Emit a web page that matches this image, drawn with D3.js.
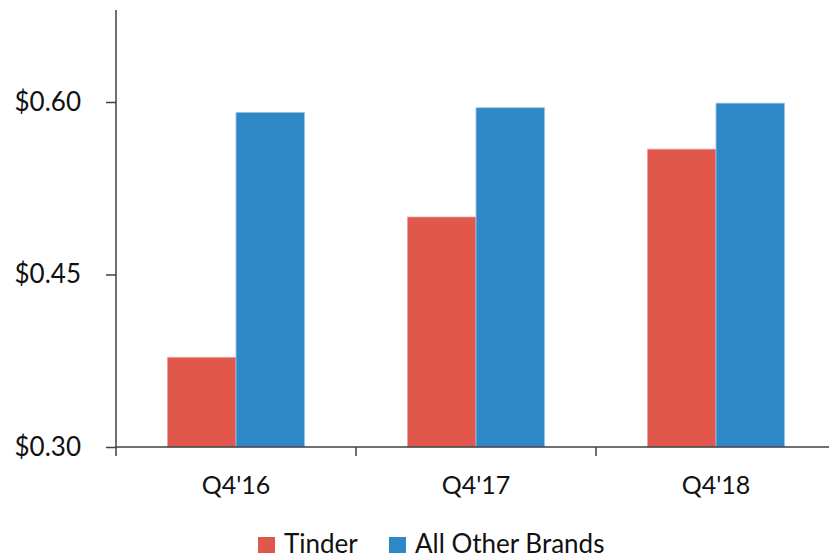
<!DOCTYPE html>
<html>
<head>
  <meta charset="utf-8">
  <style>
    body {margin: 0; background: #fff;}
    text {font-family: Lato, "Open Sans", sans-serif; fill: #111;}
  </style>
</head>
<body>
  <script src="https://cdn.jsdelivr.net/npm/d3@7/dist/d3.min.js"></script>
  <script>
    // chart data
    var quarters = ["Q4'16", "Q4'17", "Q4'18"];
    var seriesNames = ["Tinder", "All Other Brands"];
    var tinder = [0.378, 0.50, 0.559];
    var otherBrands = [0.591, 0.595, 0.599];
    var yTicks = [0.30, 0.45, 0.60];
    var colors = ["#E0584C", "#2E88C6"];

    var width = 829, height = 558;
    var margin = {top: 10, left: 116, bottom: 111};

    var svg = d3.select("body").append("svg")
      .attr("width", width)
      .attr("height", height);

    var x = d3.scaleBand().domain(quarters)
      .range([margin.left, margin.left + 240 * quarters.length])
      .paddingInner(0).paddingOuter(0);
    var xSub = d3.scaleBand().domain(seriesNames)
      .range([0, x.bandwidth()])
      .paddingOuter(0.75).paddingInner(0);
    var y = d3.scaleLinear().domain([0.30, 0.68])
      .range([height - margin.bottom, margin.top]);

    var rows = quarters.map(function (q, i) {
      return {q: q, vals: [tinder[i], otherBrands[i]]};
    });

    // bars
    var groups = svg.selectAll("g.grp").data(rows).enter().append("g")
      .attr("class", "grp")
      .attr("transform", function (d) {return "translate(" + x(d.q) + ",0)";});

    groups.selectAll("rect").data(function (d) {
        return d.vals.map(function (v, j) {return {name: seriesNames[j], v: v, j: j};});
      }).enter().append("rect")
      .attr("x", function (d) {return xSub(d.name);})
      .attr("width", xSub.bandwidth())
      .attr("y", function (d) {return y(d.v);})
      .attr("height", function (d) {return y(0.30) - y(d.v);})
      .attr("fill", function (d) {return colors[d.j];})
      .attr("stroke", function (d) {return d.j ? "#9cc6e6" : "#eea49d";})
      .attr("stroke-width", 0.8);

    // y axis
    var yAxis = d3.axisLeft(y).tickValues(yTicks).tickSize(10)
      .tickFormat(function (d) {return "$" + d3.format(".2f")(d);});
    var yg = svg.append("g")
      .attr("transform", "translate(" + margin.left + ",0)")
      .call(yAxis);
    yg.select(".domain").attr("d", "M0," + y(0.68) + "V" + y(0.30));
    yg.selectAll("line").attr("stroke", "#404040").attr("stroke-width", 1.5);
    yg.select(".domain").attr("stroke", "#404040").attr("stroke-width", 1.5);
    yg.selectAll("text").attr("x", -35).style("font-size", "26px")
      .style("font-family", "Lato, sans-serif").attr("fill", "#111");

    // x axis
    var xAxis = d3.axisBottom(x).tickSize(0).tickPadding(29);
    var xg = svg.append("g")
      .attr("transform", "translate(0," + y(0.30) + ")")
      .call(xAxis);
    xg.select(".domain").attr("d", "M" + margin.left + ",0H" + (margin.left + 720))
      .attr("stroke", "#404040").attr("stroke-width", 1.5);
    xg.selectAll("text").style("font-size", "25px")
      .style("font-family", "Lato, sans-serif").attr("fill", "#111");
    // category boundary ticks
    xg.selectAll("line.sep").data(d3.range(quarters.length + 1)).enter().append("line")
      .attr("class", "sep")
      .attr("x1", function (i) {return margin.left + i * x.step();})
      .attr("x2", function (i) {return margin.left + i * x.step();})
      .attr("y1", 0).attr("y2", 9)
      .attr("stroke", "#404040").attr("stroke-width", 1.5);

    // legend
    var legendX = [258, 389];
    var legend = svg.selectAll("g.leg").data(seriesNames).enter().append("g")
      .attr("class", "leg")
      .attr("transform", function (d, i) {return "translate(" + legendX[i] + ",537)";});
    legend.append("rect").attr("width", 17).attr("height", 16)
      .attr("fill", function (d, i) {return colors[i];});
    legend.append("text").attr("x", 26).attr("y", 16)
      .style("font-size", "26px").text(function (d) {return d;});
  </script>
</body>
</html>
